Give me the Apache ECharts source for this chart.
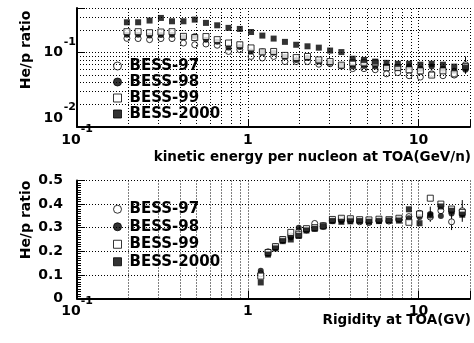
<!DOCTYPE html>
<html><head><meta charset="utf-8">
<script src="https://cdn.jsdelivr.net/npm/echarts@6/dist/echarts.min.js"></script>
<style>html,body{margin:0;padding:0;background:#fff}#c{width:474px;height:343px}</style>
</head><body><div id="c"></div>
<script>
const seriesNames = ['BESS-97', 'BESS-98', 'BESS-99', 'BESS-2000'];

// Upper panel: kinetic energy per nucleon (GeV/n) vs He/p ratio
const energy = [0.196,0.228,0.266,0.310,0.360,0.420,0.489,0.569,0.662,0.771,0.898,1.045,1.217,1.417,1.650,1.921,2.237,2.605,3.033,3.532,4.111,4.787,5.574,6.490,7.557,8.799,10.24,11.93,13.89,16.17,18.83];
const ke97 = [0.156,0.155,0.150,0.155,0.155,0.135,0.128,0.131,0.126,0.104,0.110,0.089,0.085,0.089,0.076,0.076,0.076,0.070,0.071,0.066,0.061,0.061,0.059,0.052,0.054,0.049,0.047,0.052,0.049,0.050,0.069];
const ke98 = [0.175,0.175,0.170,0.173,0.175,0.161,0.166,0.150,0.141,0.118,0.119,0.104,0.104,0.100,0.088,0.080,0.085,0.076,0.073,0.067,0.065,0.066,0.065,0.065,0.063,0.065,0.061,0.065,0.061,0.057,0.059];
const ke99 = [0.192,0.192,0.186,0.190,0.192,0.166,0.160,0.165,0.150,0.135,0.128,0.116,0.103,0.104,0.092,0.086,0.089,0.080,0.076,0.068,0.073,0.073,0.073,0.063,0.063,0.059,0.057,0.050,0.057,0.052,0.065];
const ke2000 = [0.257,0.257,0.271,0.294,0.265,0.265,0.279,0.252,0.234,0.216,0.209,0.190,0.170,0.155,0.140,0.128,0.122,0.117,0.107,0.102,0.083,0.080,0.076,0.073,0.071,0.071,0.069,0.071,0.069,0.065,0.063];
const keErr = [[18.83, 0.052, 0.089]];

// Lower panel: rigidity (GV) vs He/p ratio
const rigidity = [1.191,1.314,1.452,1.602,1.785,1.987,2.205,2.465,2.764,3.128,3.532,3.986,4.519,5.122,5.861,6.705,7.672,8.776,10.13,11.71,13.50,15.60,18.02];
const rg97 = [0.105,0.198,0.218,0.248,0.265,0.285,0.290,0.318,0.305,0.330,0.335,0.330,0.325,0.322,0.330,0.328,0.335,0.347,0.361,0.345,0.372,0.325,0.372];
const rg98 = [0.118,0.190,0.215,0.246,0.258,0.300,0.292,0.297,0.310,0.332,0.328,0.335,0.330,0.328,0.332,0.333,0.338,0.340,0.345,0.358,0.350,0.360,0.358];
const rg99 = [0.095,0.195,0.220,0.250,0.280,0.270,0.296,0.300,0.308,0.335,0.340,0.338,0.334,0.333,0.336,0.334,0.340,0.323,0.358,0.425,0.400,0.379,0.365];
const rg2000 = [0.068,0.186,0.212,0.243,0.250,0.265,0.288,0.295,0.306,0.328,0.325,0.327,0.328,0.325,0.328,0.330,0.330,0.378,0.319,0.352,0.390,0.372,0.355];
const rgErr = [[11.71, 0.325, 0.389], [15.60, 0.290, 0.360], [18.02, 0.325, 0.417]];

// Grid-line values (minor decades)
const minorGridX = [0.2,0.3,0.4,0.5,0.6,0.7,0.8,0.9,2,3,4,5,6,7,8,9];
const minorGridYTop = [0.02,0.03,0.04,0.05,0.06,0.07,0.08,0.09,0.2,0.3];

const FONT = 'DejaVu Sans';
const dotted = { type: [1, 2], color: '#000', width: 1 };
const styles = [
  { symbol: 'circle', itemStyle: { color: '#fff', borderColor: '#000', borderWidth: 1 } },
  { symbol: 'circle', itemStyle: { color: '#000', borderColor: '#000', borderWidth: 0 } },
  { symbol: 'rect', itemStyle: { color: '#fff', borderColor: '#000', borderWidth: 1 } },
  { symbol: 'rect', itemStyle: { color: '#000', borderColor: '#000', borderWidth: 0 } }
];

function pairs(xs, ys) { return xs.map((x, i) => [x, ys[i]]); }
function decade(v) {
  const e = Math.round(Math.log10(v));
  return Math.abs(Math.log10(v) - e) > 0.01 ? null : e;
}

function expLabel(v) {
  const e = decade(v);
  if (e === null) return '';
  if (e < 0) return '{b|10}{s|' + e + '}';
  return '{p|' + Math.pow(10, e) + '}';
}

const base = { fontFamily: FONT, fontWeight: 'bold', color: '#000' };
const xRich = {
  b: Object.assign({}, base, { fontSize: 14, lineHeight: 23, verticalAlign: 'bottom' }),
  s: Object.assign({}, base, { fontSize: 11, lineHeight: 23, verticalAlign: 'top' }),
  p: Object.assign({}, base, { fontSize: 14, lineHeight: 23, verticalAlign: 'bottom' })
};

function logX(gridIndex, title, titlePad) {
  return {
    type: 'log', logBase: 10, gridIndex: gridIndex, min: 0.1, max: 20,
    axisLine: { show: true, onZero: false, lineStyle: { color: '#000', width: 2 } },
    axisTick: { show: true, inside: true, length: 8, lineStyle: { color: '#000', width: 1 } },
    splitLine: { show: true, lineStyle: dotted },
    axisLabel: { margin: -3, formatter: expLabel, rich: xRich },
    name: title, nameLocation: 'end', nameGap: 1, nameMoveOverlap: false,
    nameTextStyle: { fontFamily: FONT, fontWeight: 'bold', fontSize: 13.5, color: '#000', align: 'right', verticalAlign: 'top', padding: [titlePad, 0, 0, 0] }
  };
}

const yTitleStyle = pad => ({ fontFamily: FONT, fontWeight: 'bold', fontSize: 14, color: '#000', padding: [0, 0, 0, pad] });

const option = {
  animation: false,
  backgroundColor: '#fff',
  grid: [
    { left: 77, right: 4, top: 8, height: 119, containLabel: false, outerBoundsMode: 'none' },
    { left: 77, right: 4, top: 180.5, height: 118, containLabel: false, outerBoundsMode: 'none' }
  ],
  xAxis: [
    logX(0, 'kinetic energy per nucleon at TOA(GeV/n)', 23),
    logX(1, 'Rigidity at TOA(GV)', 15)
  ],
  yAxis: [
    {
      // mantissa "10"
      type: 'log', logBase: 10, gridIndex: 0, min: 0.01, max: 0.4,
      axisLine: { show: true, onZero: false, lineStyle: { color: '#000', width: 2 } },
      axisTick: { show: true, inside: true, length: 8, lineStyle: { color: '#000' } },
      splitLine: { show: true, lineStyle: dotted },
      axisLabel: {
        margin: 14, hideOverlap: false,
        rich: {
          m: Object.assign({}, base, { fontSize: 14 }),
          m2: Object.assign({}, base, { fontSize: 14, padding: [0, 0, 18, 0] })
        },
        formatter: v => {
          const e = decade(v);
          if (e === null) return '';
          return e === -2 ? '{m2|10}' : '{m|10}';
        }
      },
      name: 'He/p ratio', nameLocation: 'middle', nameGap: 44, nameMoveOverlap: false, nameTextStyle: yTitleStyle(35)
    },
    {
      // exponent (superscript)
      type: 'log', logBase: 10, gridIndex: 0, min: 0.01, max: 0.4, position: 'left', offset: 0,
      axisLine: { show: false }, axisTick: { show: false }, splitLine: { show: false },
      axisLabel: {
        margin: 1, hideOverlap: false,
        rich: {
          x1: Object.assign({}, base, { fontSize: 11, padding: [0, 0, 22, 0] }),
          x2: Object.assign({}, base, { fontSize: 11, padding: [0, 0, 40, 0] })
        },
        formatter: v => {
          const e = decade(v);
          if (e === null) return '';
          return e === -2 ? '{x2|' + e + '}' : '{x1|' + e + '}';
        }
      }
    },
    {
      type: 'value', gridIndex: 1, min: 0, max: 0.5, interval: 0.1,
      axisLine: { show: true, onZero: false, lineStyle: { color: '#000', width: 2 } },
      axisTick: { show: true, inside: true, length: 8, lineStyle: { color: '#000' } },
      minorTick: { show: true, splitNumber: 10, length: 4, lineStyle: { color: '#000' } },
      splitLine: { show: true, lineStyle: dotted },
      axisLabel: {
        margin: 14, fontFamily: FONT, fontWeight: 'bold', fontSize: 14, color: '#000',
        formatter: v => (Math.abs(v) < 1e-9 ? '0' : v.toFixed(1))
      },
      name: 'He/p ratio', nameLocation: 'middle', nameGap: 44, nameMoveOverlap: false, nameTextStyle: yTitleStyle(39)
    }
  ],
  legend: [0, 1].map(i => ({
    orient: 'vertical', left: 108, top: i === 0 ? 53 : 195.5,
    itemWidth: 14, itemHeight: 8, itemGap: 0, symbolKeepAspect: true,
    itemStyle: { borderWidth: 1 },
    textStyle: { fontFamily: FONT, fontWeight: 'bold', fontSize: 15, color: '#000', lineHeight: i === 0 ? 16 : 17.5 },
    selectedMode: false,
    data: seriesNames.map((n, k) => ({ name: n, icon: k < 2 ? 'circle' : 'path://M0,0L10,0L10,10L0,10Z' }))
  })),
  series: []
};

const topData = [ke97, ke98, ke99, ke2000];
const botData = [rg97, rg98, rg99, rg2000];

function errSeries(xi, yi, data) {
  return {
    type: 'custom', xAxisIndex: xi, yAxisIndex: yi, silent: true, z: 1,
    encode: { x: 0, y: [1, 2] },
    renderItem: (params, api) => {
      const p1 = api.coord([api.value(0), api.value(1)]);
      const p2 = api.coord([api.value(0), api.value(2)]);
      return { type: 'line', shape: { x1: p1[0], y1: p1[1], x2: p2[0], y2: p2[1] }, style: { stroke: '#000', lineWidth: 1 } };
    },
    data: data
  };
}

option.series.push(errSeries(0, 0, keErr));
option.series.push(errSeries(1, 2, rgErr));

seriesNames.forEach((n, k) => {
  const top = {
    name: n, type: 'scatter', xAxisIndex: 0, yAxisIndex: 0, symbolSize: 6, z: 3 + k,
    symbol: styles[k].symbol, itemStyle: styles[k].itemStyle, silent: true,
    data: pairs(energy, topData[k])
  };
  const bot = {
    name: n, type: 'scatter', xAxisIndex: 1, yAxisIndex: 2, symbolSize: 6, z: 3 + k,
    symbol: styles[k].symbol, itemStyle: styles[k].itemStyle, silent: true,
    data: pairs(rigidity, botData[k])
  };
  if (k === 0) {
    top.markLine = {
      silent: true, symbol: 'none', label: { show: false }, lineStyle: dotted, animation: false,
      data: minorGridX.map(v => ({ xAxis: v })).concat(minorGridYTop.map(v => ({ yAxis: v })))
    };
    bot.markLine = {
      silent: true, symbol: 'none', label: { show: false }, lineStyle: dotted, animation: false,
      data: minorGridX.map(v => ({ xAxis: v }))
    };
  }
  option.series.push(top, bot);
});

const chart = echarts.init(document.getElementById('c'), null, { renderer: 'canvas' });
chart.setOption(option);
</script>
</body></html>
